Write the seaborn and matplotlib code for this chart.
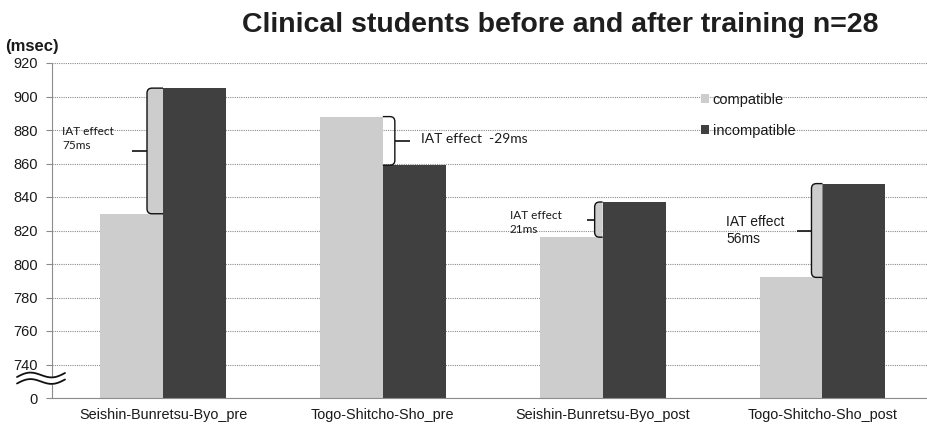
import numpy as np
import pandas as pd
import matplotlib
matplotlib.use("Agg")
import matplotlib.pyplot as plt
import seaborn as sns
from matplotlib.path import Path
from matplotlib.patches import PathPatch

# --- data -------------------------------------------------------------
conditions = ["Seishin-Bunretsu-Byo_pre", "Togo-Shitcho-Sho_pre",
              "Seishin-Bunretsu-Byo_post", "Togo-Shitcho-Sho_post"]
blocks = ["compatible", "incompatible"]
compatible = [830, 888, 816, 792]
incompatible = [905, 859, 837, 848]
y_ticks = [0, 740, 760, 780, 800, 820, 840, 860, 880, 900, 920]

df = pd.DataFrame({
    "condition": conditions * 2,
    "block": [blocks[0]] * 4 + [blocks[1]] * 4,
    "ms": compatible + incompatible,
})

# --- broken y axis: 0..740 squeezed into one step, then 20 ms per step --
BREAK, STEP = 740.0, 20.0


def fwd(v):
    v = np.asarray(v, dtype=float)
    return np.where(v < BREAK, v / BREAK, 1 + (v - BREAK) / STEP)


def inv(u):
    u = np.asarray(u, dtype=float)
    return np.where(u < 1, u * BREAK, BREAK + (u - 1) * STEP)


sns.set_theme(style="white")
plt.rcParams["font.family"] = ["Liberation Sans", "DejaVu Sans"]

W, H = 928, 429
fig = plt.figure(figsize=(W / 100, H / 100), dpi=100)
ax = fig.add_axes([52 / W, 1 - 398 / H, 1 - 52 / W, (398 - 63) / H])

LIGHT, DARK = "#cdcdcd", "#404040"
BAR_W = 0.573
sns.barplot(data=df, x="condition", y="ms", hue="block", order=conditions,
            hue_order=blocks, palette=[LIGHT, DARK], width=BAR_W,
            saturation=1, errorbar=None, edgecolor="none", linewidth=0,
            ax=ax)

ax.set_yscale("function", functions=(fwd, inv))
ax.set_ylim(0, 920)
ax.set_yticks(y_ticks)
ax.set_yticklabels([str(t) for t in y_ticks])
ax.set_xlim(-0.505, 3.48)
ax.set_xlabel("")
ax.set_ylabel("")

grid_col = "#8c8c8c"
ax.yaxis.grid(True, linestyle=(0, (1, 1)), color=grid_col, linewidth=0.8)
ax.xaxis.grid(False)
ax.set_axisbelow(True)
for s in ["top", "right"]:
    ax.spines[s].set_visible(False)
for s in ["left", "bottom"]:
    ax.spines[s].set_linestyle((0, (1, 1)))
    ax.spines[s].set_color(grid_col)
    ax.spines[s].set_linewidth(0.8)
ax.tick_params(axis="y", length=4, width=0.8, color=grid_col, pad=6,
               labelsize=10.5, labelcolor="#1a1a1a", left=True)
ax.tick_params(axis="x", length=0, pad=7, labelsize=10.4, labelcolor="#1a1a1a")

# --- legend -------------------------------------------------------------
handles, labels = ax.get_legend_handles_labels()
ax.legend(handles, labels, loc="upper left",
          bbox_to_anchor=(701 / W, 1 - 93 / H), bbox_transform=fig.transFigure,
          frameon=False, handlelength=0.55, handleheight=0.55,
          handletextpad=0.25, labelspacing=1.15, fontsize=10.5,
          labelcolor="#1a1a1a", borderaxespad=0, borderpad=0)

# --- IAT effect braces ------------------------------------------------
PX = 1 / 219.7          # one pixel in category units
RX, RY = 5 * PX, 3.0    # corner rounding


def brace(ax, x_edge, y_lo, y_hi, side, width, tip, fill):
    sgn = -1 if side == "left" else 1
    xo = x_edge + sgn * width
    outline = [
        (x_edge, y_hi), (xo - sgn * RX, y_hi), (xo, y_hi), (xo, y_hi - RY),
        (xo, y_lo + RY), (xo, y_lo), (xo - sgn * RX, y_lo), (x_edge, y_lo),
    ]
    codes = [Path.MOVETO, Path.LINETO, Path.CURVE3, Path.CURVE3,
             Path.LINETO, Path.CURVE3, Path.CURVE3, Path.LINETO]
    if fill:
        ax.add_patch(PathPatch(Path(outline + [outline[0]],
                                    codes + [Path.CLOSEPOLY]),
                               facecolor=LIGHT, edgecolor="none", zorder=3))
    ax.add_patch(PathPatch(Path(outline, codes), facecolor="none",
                           edgecolor="#111111", linewidth=1.0, zorder=4))
    ym = (y_lo + y_hi) / 2
    ax.plot([xo, xo + sgn * tip], [ym, ym], color="#111111", lw=1.2,
            zorder=4, solid_capstyle="butt")


effects = [b - a for a, b in zip(compatible, incompatible)]
brace_side = ["left", "right", "left", "left"]
brace_width = [16 * PX, 12 * PX, 8 * PX, 11 * PX]
brace_tip = [15 * PX, 15 * PX, 8 * PX, 14 * PX]
brace_fill = [True, False, True, True]
for i in range(4):
    lo, hi = sorted([compatible[i], incompatible[i]])
    brace(ax, float(i), lo, hi, brace_side[i], brace_width[i],
          brace_tip[i], brace_fill[i])

label_dx = [-0.46, 0.173, -0.423, -0.437]
label_y = [875, 874.5, 825, 820]
label_fmt = ["IAT effect\n{}ms", "IAT effect  {}ms", "IAT effect\n{}ms",
             "IAT effect\n{}ms"]
label_font = [("Lato", 8.5), ("Lato", 10), ("Lato", 8.5),
              ("Liberation Sans", 10)]
for i in range(4):
    fam, size = label_font[i]
    ax.text(i + label_dx[i], label_y[i], label_fmt[i].format(effects[i]),
            ha="left", va="center", fontsize=size, color="#1a1a1a",
            family=[fam, "DejaVu Sans"], linespacing=1.35, zorder=5)

# --- axis break mark --------------------------------------------------
t = np.linspace(0, 1, 60)
bx = (17 + t * 48 - 52) / 876
wave = 0.010 * np.sin(2 * np.pi * t) + 0.012 * (t - 0.5)
y_top = (398 - 375) / 335 + wave
y_bot = (398 - 381.5) / 335 + wave
ax.fill_between(bx, y_bot, y_top, color="white", transform=ax.transAxes,
                clip_on=False, zorder=6)
for yy in (y_top, y_bot):
    ax.plot(bx, yy, color="#111111", lw=1.3, transform=ax.transAxes,
            clip_on=False, zorder=7)

# --- titles -------------------------------------------------------------
fig.text(560 / W, 1 - 25 / H, "Clinical students before and after training n=28",
         ha="center", va="center", fontsize=20.5, fontweight="bold",
         color="#1e1e1e")
fig.text(5 / W, 1 - 47 / H, "(msec)", ha="left", va="center", fontsize=12,
         fontweight="bold", color="#1a1a1a")

fig.savefig("out.png", dpi=100, facecolor="white")
